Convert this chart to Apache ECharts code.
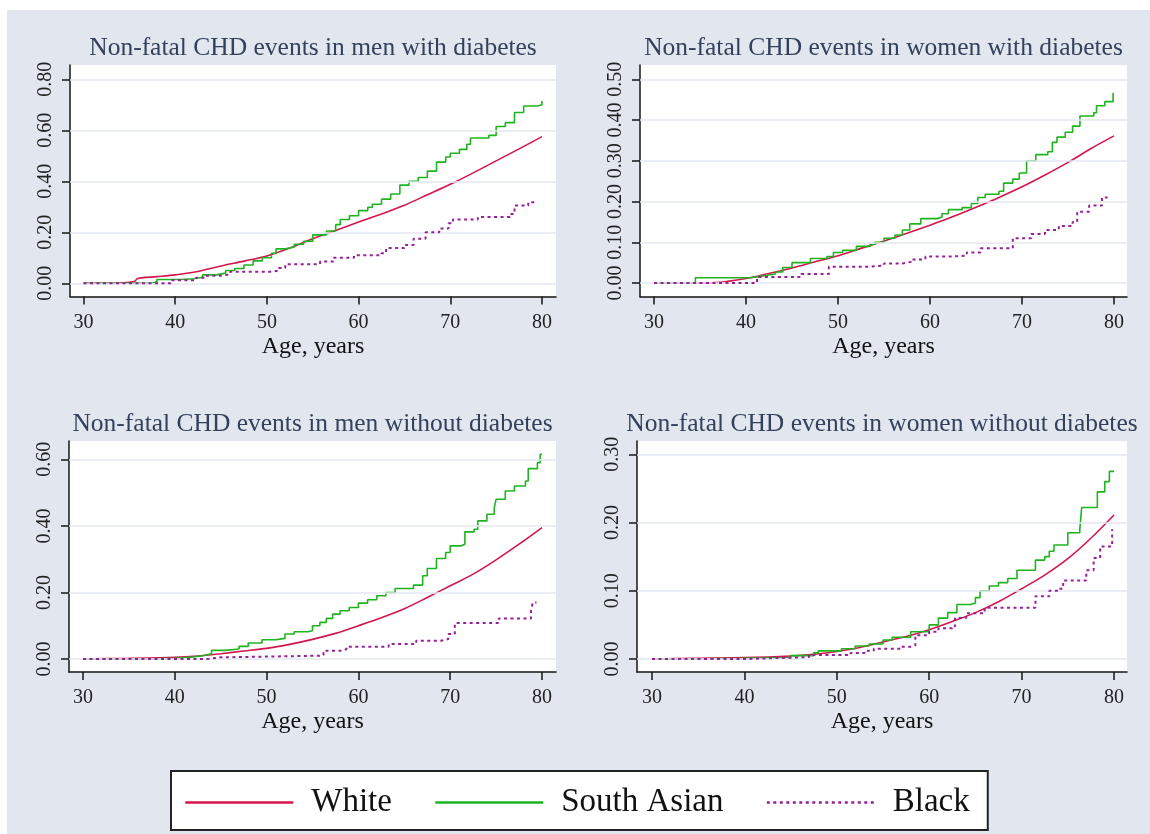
<!DOCTYPE html>
<html><head><meta charset="utf-8">
<script src="https://cdn.jsdelivr.net/npm/echarts@6/dist/echarts.min.js"></script>
<style>
html,body{margin:0;padding:0;background:#fff;}
#bg{position:absolute;left:7px;top:10px;width:1143px;height:824px;background:#e1e6ef;}
#chart{position:absolute;left:0;top:0;width:1150px;height:834px;}
</style></head><body><div id="bg"></div><div id="chart"></div>
<script>
// ---------- data ----------
const titles = [
  'Non-fatal CHD events in men with diabetes',
  'Non-fatal CHD events in women with diabetes',
  'Non-fatal CHD events in men without diabetes',
  'Non-fatal CHD events in women without diabetes'
];
const groupNames = ['White', 'South Asian', 'Black'];
const xAxisTitle = 'Age, years';
const xTicks = [30, 40, 50, 60, 70, 80];
const yTicksMenDiab = [0, 0.2, 0.4, 0.6, 0.8];
const yTicksWomenDiab = [0, 0.1, 0.2, 0.3, 0.4, 0.5];
const yTicksMenNoDiab = [0, 0.2, 0.4, 0.6];
const yTicksWomenNoDiab = [0, 0.1, 0.2, 0.3];

// men with diabetes
const menDiabWhite = [[30,0],[33,0],[35,0.004],[35.6,0.008],[35.9,0.019],[38,0.026],[40,0.033],[42,0.043],[45,0.068],[47.5,0.087],[50,0.107],[52.5,0.138],[55,0.175],[57.5,0.207],[60,0.24],[62.5,0.272],[65,0.306],[67.5,0.347],[70,0.388],[72.5,0.433],[75,0.48],[77.5,0.527],[80,0.575]];
const menDiabSA = [[30,0],[37.5,0.006],[38,0.015],[40.5,0.018],[42,0.024],[43,0.033],[44.5,0.04],[45.5,0.05],[46.5,0.058],[47.5,0.072],[48.5,0.088],[49.5,0.1],[50.5,0.118],[51,0.135],[52,0.142],[53,0.153],[54,0.165],[55,0.19],[56.5,0.205],[57.5,0.23],[58,0.25],[59,0.265],[60,0.285],[61,0.298],[61.5,0.31],[62.5,0.33],[63.5,0.35],[64.5,0.385],[65.5,0.4],[66.5,0.415],[67.5,0.44],[68.5,0.475],[69.5,0.495],[70,0.51],[71,0.525],[71.8,0.545],[72.2,0.57],[74.2,0.58],[75,0.615],[76,0.63],[77,0.67],[78,0.695],[79.5,0.7],[80,0.715]];
const menDiabBlack = [[30,0],[39.5,0.012],[42.3,0.022],[43.3,0.03],[45,0.035],[46,0.045],[50.5,0.05],[51.3,0.06],[52,0.075],[55.8,0.085],[57.3,0.1],[59.5,0.11],[62.5,0.118],[63,0.138],[65,0.15],[66,0.175],[67.3,0.2],[68.8,0.215],[69.8,0.235],[70.3,0.25],[73,0.26],[76.5,0.272],[77,0.305],[78.5,0.318],[79.3,0.325]];

// women with diabetes
const womenDiabWhite = [[30,0],[36,0],[38,0.004],[40,0.011],[42,0.021],[45,0.037],[47.5,0.052],[50,0.067],[52.5,0.085],[55,0.103],[57.5,0.122],[60,0.142],[62.5,0.163],[65,0.186],[67.5,0.21],[70,0.236],[72.5,0.265],[75,0.296],[77.5,0.33],[80,0.361]];
const womenDiabSA = [[30,0],[34.5,0.013],[40.5,0.015],[41.2,0.018],[42,0.022],[43.2,0.027],[44,0.038],[45,0.05],[47,0.06],[48.8,0.065],[49.5,0.075],[50.5,0.08],[52,0.09],[53.5,0.095],[54,0.1],[55,0.11],[56.2,0.118],[57,0.13],[57.8,0.145],[59,0.158],[60.8,0.162],[61.3,0.17],[62,0.18],[63.5,0.185],[64.5,0.195],[65.2,0.21],[66,0.218],[67.5,0.225],[68,0.245],[69,0.255],[69.7,0.27],[70.5,0.3],[71.5,0.315],[72.8,0.322],[73.3,0.345],[73.8,0.358],[74.7,0.37],[75.5,0.385],[76.3,0.41],[77.8,0.418],[78.1,0.435],[79,0.445],[79.9,0.465],[80,0.465]];
const womenDiabBlack = [[30,0],[41.2,0.015],[46,0.022],[49,0.04],[53.5,0.043],[55,0.048],[57,0.052],[58,0.058],[59.5,0.065],[62.3,0.067],[64,0.075],[65.5,0.085],[69,0.11],[71,0.12],[72.5,0.13],[74,0.14],[75.5,0.15],[76,0.175],[77.3,0.19],[78.7,0.21],[79.3,0.21]];

// men without diabetes
const menNoDiabWhite = [[30,0],[35,0.002],[40,0.005],[42.5,0.009],[45,0.016],[47.5,0.024],[50,0.032],[52.5,0.044],[55,0.059],[57.5,0.077],[60,0.1],[62.5,0.124],[65,0.151],[67.5,0.185],[70,0.22],[72.5,0.255],[75,0.298],[77.5,0.345],[80,0.395]];
const menNoDiabSA = [[30,0],[37,0.002],[40,0.006],[42,0.01],[43,0.016],[44,0.026],[45.5,0.03],[47,0.038],[48,0.048],[49.5,0.058],[51,0.062],[52,0.075],[53,0.082],[54.5,0.085],[55,0.1],[55.8,0.11],[56.5,0.122],[57.2,0.135],[58,0.145],[59,0.155],[60,0.168],[61,0.178],[62,0.19],[63,0.2],[64,0.212],[66,0.222],[67,0.25],[67.5,0.272],[68.5,0.302],[69.5,0.32],[70,0.34],[71.2,0.345],[71.6,0.382],[72.6,0.39],[73,0.415],[74,0.435],[74.8,0.455],[75,0.48],[76,0.505],[77,0.52],[78.2,0.535],[78.5,0.572],[79.5,0.59],[79.8,0.615],[80,0.615]];
const menNoDiabBlack = [[30,0],[43.5,0.005],[45,0.01],[55.8,0.012],[56.2,0.025],[58.3,0.03],[58.7,0.037],[63.3,0.045],[66.3,0.055],[69,0.06],[69.8,0.075],[70.5,0.108],[75.3,0.122],[78.8,0.145],[79,0.17],[79.4,0.17]];

// women without diabetes
const womenNoDiabWhite = [[30,0],[35,0.001],[40,0.002],[45,0.0045],[47.5,0.007],[50,0.011],[52.5,0.017],[55,0.025],[57.5,0.033],[60,0.043],[62.5,0.055],[65,0.068],[67.5,0.084],[70,0.103],[72.5,0.123],[75,0.147],[77.5,0.177],[80,0.211]];
const womenNoDiabSA = [[30,0],[33,0.001],[40,0.002],[45,0.005],[47.5,0.009],[48,0.012],[50.5,0.015],[52,0.019],[53.5,0.022],[55,0.028],[56,0.032],[58,0.04],[60,0.05],[61,0.06],[62,0.068],[63,0.08],[64.5,0.082],[65,0.09],[65.5,0.1],[66.5,0.107],[67.5,0.112],[68.5,0.118],[69.5,0.13],[71.5,0.145],[72.5,0.15],[73,0.158],[73.5,0.167],[75,0.185],[76.3,0.19],[76.5,0.222],[78.2,0.245],[79,0.26],[79.5,0.275],[80,0.275]];
const womenNoDiabBlack = [[30,0],[40,0.002],[45,0.003],[47,0.006],[51.5,0.009],[53,0.012],[54,0.015],[57,0.018],[58,0.02],[58.5,0.035],[60,0.04],[61,0.045],[62.5,0.048],[62.8,0.06],[64,0.067],[66,0.075],[71.5,0.092],[73,0.1],[74,0.103],[74.5,0.115],[77,0.13],[77.8,0.148],[78.5,0.165],[79.8,0.19]];

// ---------- layout / style ----------
const SERIF = '"Liberation Serif", "DejaVu Serif", serif';
const COLORS = ['#d3164c', '#1fb41f', '#971f97'];
const panels = [
  {grid:{left:70, top:65, width:486, height:231.5}, x:[28.528,81.527], y:[-0.0518,0.856], yTicks:yTicksMenDiab, series:[menDiabWhite, menDiabSA, menDiabBlack], titleTop:35},
  {grid:{left:640, top:65, width:487, height:231.5}, x:[28.478,81.413], y:[-0.0331,0.535], yTicks:yTicksWomenDiab, series:[womenDiabWhite, womenDiabSA, womenDiabBlack], titleTop:35},
  {grid:{left:69, top:441, width:487, height:231}, x:[28.475,81.525], y:[-0.039,0.655], yTicks:yTicksMenNoDiab, series:[menNoDiabWhite, menNoDiabSA, menNoDiabBlack], titleTop:411},
  {grid:{left:637, top:441, width:490, height:231}, x:[28.377,81.407], y:[-0.019,0.3195], yTicks:yTicksWomenNoDiab, series:[womenNoDiabWhite, womenNoDiabSA, womenNoDiabBlack], titleTop:411}
];

const option = {
  animation: false,
  title: panels.map((p, i) => ({
    text: titles[i], left: p.grid.left + p.grid.width / 2, top: p.titleTop, textAlign: 'center', padding: 0,
    textStyle: {fontFamily: SERIF, fontSize: 25.5, fontWeight: 'normal', color: '#33415a'}
  })),
  grid: panels.map(p => Object.assign({show: true, backgroundColor: '#ffffff', borderWidth: 0, containLabel: false}, p.grid)),
  xAxis: panels.map((p, i) => ({
    type: 'value', gridIndex: i, min: p.x[0], max: p.x[1],
    axisLine: {show: true, onZero: false, lineStyle: {color: '#161616', width: 1.5}},
    axisTick: {show: true, length: 8, customValues: xTicks, lineStyle: {color: '#161616', width: 1.5}},
    axisLabel: {customValues: xTicks, fontFamily: SERIF, fontSize: 20, color: '#222', margin: 16},
    splitLine: {show: false},
    name: xAxisTitle, nameLocation: 'middle', nameGap: 38,
    nameTextStyle: {fontFamily: SERIF, fontSize: 24, color: '#111'}
  })),
  yAxis: panels.map((p, i) => ({
    type: 'value', gridIndex: i, min: p.y[0], max: p.y[1],
    axisLine: {show: true, onZero: false, lineStyle: {color: '#161616', width: 1.5}},
    axisTick: {show: true, length: 8, customValues: p.yTicks, lineStyle: {color: '#161616', width: 1.5}},
    axisLabel: {customValues: p.yTicks, rotate: 90, fontFamily: SERIF, fontSize: 20, color: '#222', margin: 14,
      formatter: v => v.toFixed(2)},
    splitLine: {show: false}
  })),
  legend: {
    data: groupNames, left: 171, top: 771, orient: 'horizontal',
    itemWidth: 108, itemHeight: 20, itemGap: 42,
    padding: [15, 18, 11, 13],
    backgroundColor: '#fff', borderColor: '#222', borderWidth: 2, borderRadius: 0,
    selectedMode: false,
    itemStyle: {opacity: 0},
    lineStyle: {width: 2.6},
    textStyle: {fontFamily: SERIF, fontSize: 33, color: '#111', padding: [0, 0, 0, 13]}
  },
  series: []
};

panels.forEach((p, i) => {
  option.series.push({
    type: 'line', name: 'gridlines' + i, xAxisIndex: i, yAxisIndex: i, data: [], silent: true, z: 1,
    markLine: {silent: true, symbol: ['none', 'none'], label: {show: false},
      lineStyle: {color: '#e3e8f1', width: 1.5, type: 'solid'},
      data: p.yTicks.map(v => ({yAxis: v}))}
  });
  p.series.forEach((d, k) => {
    option.series.push({
      type: 'line', name: groupNames[k], xAxisIndex: i, yAxisIndex: i, data: d,
      showSymbol: false, symbol: 'none', z: 3 + k,
      step: k === 0 ? false : 'end',
      smooth: k === 0 ? 0.3 : false,
      color: COLORS[k],
      lineStyle: {color: COLORS[k], width: k === 2 ? 2 : 1.6, type: k === 2 ? [3, 3.5] : 'solid'}
    });
  });
});

const chart = echarts.init(document.getElementById('chart'), null, {renderer: 'canvas'});
chart.setOption(option);
</script></body></html>
